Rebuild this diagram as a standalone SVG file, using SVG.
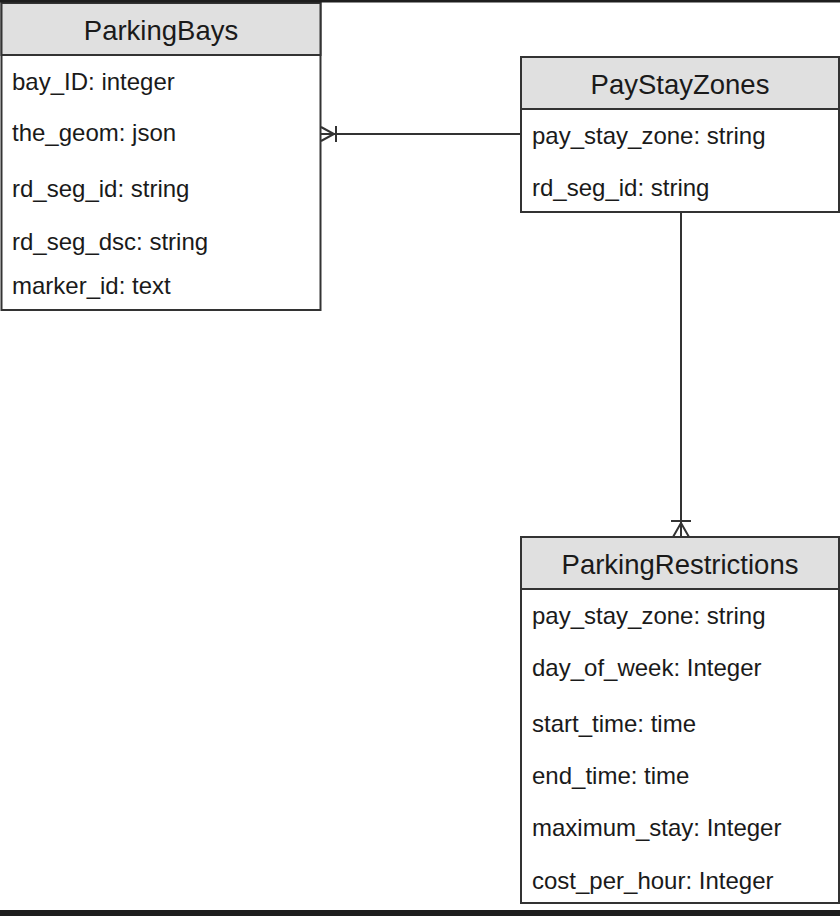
<svg xmlns="http://www.w3.org/2000/svg" width="840" height="916" viewBox="0 0 840 916">
<style>
.box{fill:#ffffff;stroke:#333333;stroke-width:2}
.hdr{fill:#e0e0e0;stroke:#333333;stroke-width:2}
.ttl{font-family:"Liberation Sans",Arial,sans-serif;font-size:27.5px;fill:#1a1a1a;text-anchor:middle}
.fld{font-family:"Liberation Sans",Arial,sans-serif;font-size:24px;fill:#1a1a1a}
.ln{fill:none;stroke:#333333;stroke-width:2}
</style>
<rect x="0" y="0" width="840" height="916" fill="#ffffff"/>
<g id="connectors">
<line class="ln" x1="321" y1="134" x2="521" y2="134"/>
<polyline class="ln" points="321,127 334,134 321,141"/>
<line class="ln" x1="336" y1="126" x2="336" y2="142"/>
<line class="ln" x1="681" y1="212" x2="681" y2="537"/>
<polyline class="ln" points="673,537 681,523 689,537"/>
<line class="ln" x1="671" y1="521" x2="691" y2="521"/>
</g>
<g id="ParkingBays">
<rect class="box" x="1.5" y="3" width="319" height="307"/>
<rect class="hdr" x="1.5" y="3" width="319" height="52"/>
<text class="ttl" x="161" y="39.5">ParkingBays</text>
<text class="fld" x="12" y="89.5">bay_ID: integer</text>
<text class="fld" x="12" y="140.5">the_geom: json</text>
<text class="fld" x="12" y="196.5">rd_seg_id: string</text>
<text class="fld" x="12" y="249.5">rd_seg_dsc: string</text>
<text class="fld" x="12" y="293.5">marker_id: text</text>
</g>
<g id="PayStayZones">
<rect class="box" x="521" y="57" width="318" height="155"/>
<rect class="hdr" x="521" y="57" width="318" height="52"/>
<text class="ttl" x="680" y="93.5">PayStayZones</text>
<text class="fld" x="532" y="143.5">pay_stay_zone: string</text>
<text class="fld" x="532" y="195.5">rd_seg_id: string</text>
</g>
<g id="ParkingRestrictions">
<rect class="box" x="521" y="537" width="318" height="366"/>
<rect class="hdr" x="521" y="537" width="318" height="52"/>
<text class="ttl" x="680" y="573.5">ParkingRestrictions</text>
<text class="fld" x="532" y="623.5">pay_stay_zone: string</text>
<text class="fld" x="532" y="675.5">day_of_week: Integer</text>
<text class="fld" x="532" y="731.5">start_time: time</text>
<text class="fld" x="532" y="783.5">end_time: time</text>
<text class="fld" x="532" y="835.5">maximum_stay: Integer</text>
<text class="fld" x="532" y="888.5">cost_per_hour: Integer</text>
</g>
<rect x="0" y="0" width="840" height="2.5" fill="#1e1e1e"/>
<rect x="0" y="910" width="840" height="6" fill="#1e1e1e"/>
</svg>
